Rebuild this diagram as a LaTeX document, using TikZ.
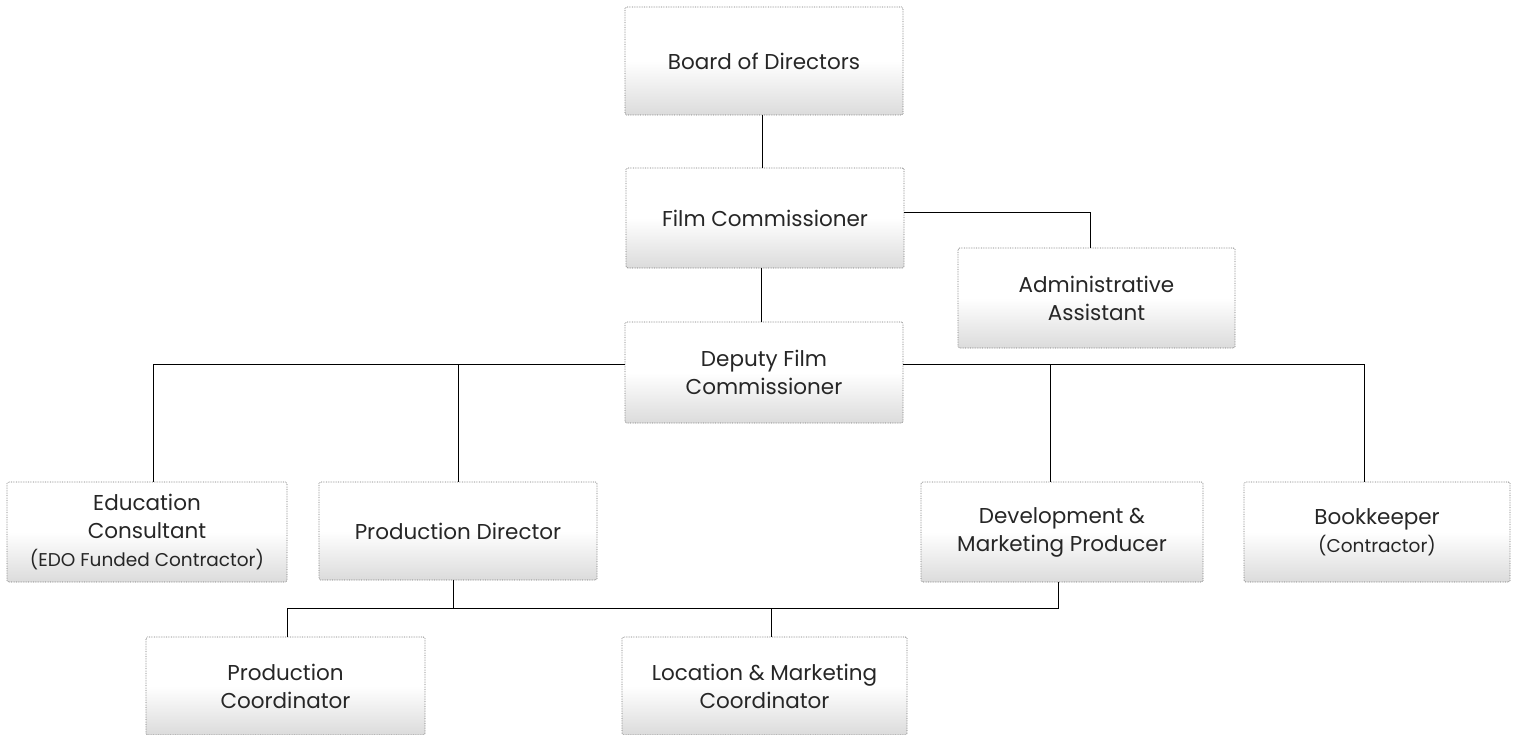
\documentclass[tikz,border=0pt]{standalone}
\usepackage{fontspec}
\setmainfont{Poppins}
\begin{document}
\begin{tikzpicture}[x=1pt,y=-1pt,
  box/.style={rectangle, draw=black!55, line width=0.7pt, densely dotted, rounded corners=1.5pt,
    top color=white, bottom color=black!14, middle color=white,
    align=center, text=black!85, font=\fontsize{21.5}{28}\selectfont, inner sep=0pt},
  link/.style={draw=black, line width=1pt}]
\newcommand{\smalltext}[1]{{\fontsize{18.5}{28}\selectfont #1}}
\useasboundingbox (0,0) rectangle (1522,735);
% nodes
\node[box, minimum width=278, minimum height=108] (board) at (764,61) {Board of Directors};
\node[box, minimum width=278, minimum height=100] (fc) at (765,218) {Film Commissioner};
\node[box, minimum width=277, minimum height=100] (admin) at (1096.5,298) {Administrative\\Assistant};
\node[box, minimum width=278, minimum height=101] (dep) at (764,372.5) {Deputy Film\\Commissioner};
\node[box, minimum width=280, minimum height=100] (edu) at (147,532) {Education\\Consultant\\\smalltext{(EDO Funded Contractor)}};
\node[box, minimum width=278, minimum height=98] (pd) at (458,531) {Production Director};
\node[box, minimum width=282, minimum height=100] (dev) at (1062,532) {Development \&\\Marketing Producer};
\node[box, minimum width=266, minimum height=100] (book) at (1377,532) {Bookkeeper\\\smalltext{(Contractor)}};
\node[box, minimum width=279, minimum height=98] (pc) at (285.5,686) {Production\\Coordinator};
\node[box, minimum width=285, minimum height=98] (loc) at (764.5,686) {Location \& Marketing\\Coordinator};
% junction coordinates
\coordinate (jEdu) at (153,364);
\coordinate (jPd) at (458,364);
\coordinate (jDev) at (1050,364);
\coordinate (jBook) at (1364,364);
\coordinate (jAdm) at (1090,213);
\coordinate (bPd) at (453,608);
\coordinate (bDev) at (1058,608);
\coordinate (bPc) at (287,608);
\coordinate (bLoc) at (771,608);
% connectors
\draw[link] (board.south -| 762,0) -- (fc.north -| 762,0);
\draw[link] (fc.south -| 761,0) -- (dep.north -| 761,0);
\draw[link] (fc.east |- jAdm) -- (jAdm) -- (jAdm |- admin.north);
\draw[link] (jEdu |- edu.north) -- (jEdu) -- (dep.west |- jEdu);
\draw[link] (dep.east |- jBook) -- (jBook) -- (jBook |- book.north);
\draw[link] (jPd) -- (jPd |- pd.north);
\draw[link] (jDev) -- (jDev |- dev.north);
\draw[link] (bPd |- pd.south) -- (bPd);
\draw[link] (bDev |- dev.south) -- (bDev) -- (bPc) -- (bPc |- pc.north);
\draw[link] (bLoc) -- (bLoc |- loc.north);
\end{tikzpicture}
\end{document}
